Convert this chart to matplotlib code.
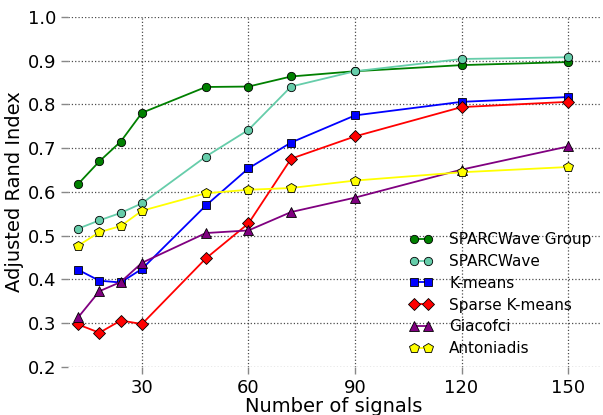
import matplotlib
matplotlib.use("Agg")
import matplotlib.pyplot as plt

n_signals = [12, 18, 24, 30, 48, 60, 72, 90, 120, 150]

sparcwave_group = [0.618, 0.670, 0.715, 0.781, 0.840, 0.841, 0.864, 0.876, 0.890, 0.897]
sparcwave = [0.516, 0.535, 0.552, 0.574, 0.681, 0.742, 0.841, 0.876, 0.904, 0.908]
kmeans = [0.422, 0.397, 0.393, 0.424, 0.569, 0.654, 0.713, 0.775, 0.806, 0.817]
sparse_kmeans = [0.297, 0.278, 0.306, 0.298, 0.448, 0.528, 0.676, 0.727, 0.794, 0.806]
giacofci = [0.313, 0.373, 0.394, 0.438, 0.506, 0.512, 0.554, 0.587, 0.651, 0.704]
antoniadis = [0.477, 0.508, 0.522, 0.557, 0.597, 0.605, 0.609, 0.626, 0.645, 0.657]

series = [
    ("SPARCWave Group", sparcwave_group, "green", "o", 6),
    ("SPARCWave", sparcwave, "#66cdaa", "o", 6),
    ("K-means", kmeans, "blue", "s", 6),
    ("Sparse K-means", sparse_kmeans, "red", "D", 6.5),
    ("Giacofci", giacofci, "purple", "^", 7.5),
    ("Antoniadis", antoniadis, "yellow", "p", 7.5),
]

fig = plt.figure(figsize=(6.03, 4.15), dpi=100)
ax = fig.add_axes([0.113, 0.116, 0.882, 0.843])

for name, vals, col, mk, ms in series:
    ax.plot(n_signals, vals, color=col, marker=mk, markersize=ms,
            markeredgecolor="black", markeredgewidth=0.6, linewidth=1.3, label=name)

ax.set_xlim(9.2, 159)
ax.set_ylim(0.2, 1.0)
ax.set_xticks([30, 60, 90, 120, 150])
ax.set_yticks([0.2, 0.3, 0.4, 0.5, 0.6, 0.7, 0.8, 0.9, 1.0])
ax.grid(True, color="black", linestyle=":", linewidth=0.9, alpha=0.7)
ax.set_axisbelow(True)
for sp in ax.spines.values():
    sp.set_visible(False)
ax.tick_params(colors="#888888", labelcolor="black", labelsize=13, length=5, width=1)

ax.set_xlabel("Number of signals", fontsize=14, labelpad=0)
ax.set_ylabel("Adjusted Rand Index", fontsize=14, labelpad=3)

ax.legend(loc="lower left", bbox_to_anchor=(0.642, 0.03), frameon=False, numpoints=2,
          fontsize=11, handlelength=1.5, handletextpad=1.1, labelspacing=0.45,
          borderpad=0, borderaxespad=0)

fig.savefig("out.png", dpi=100)
